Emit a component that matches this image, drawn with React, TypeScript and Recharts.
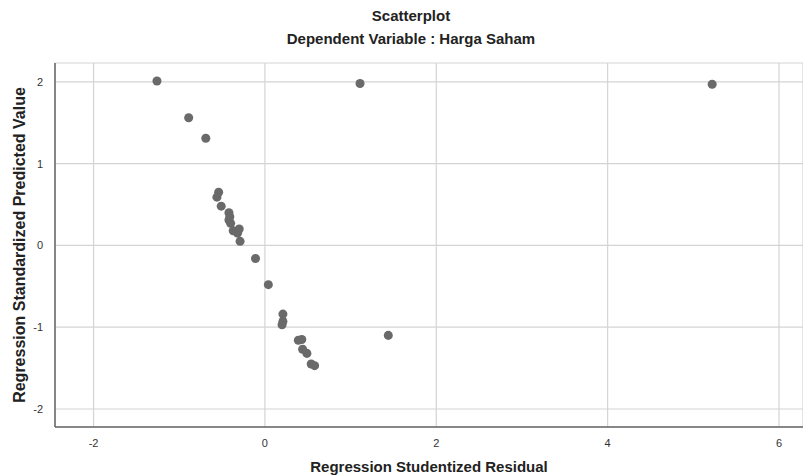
import React from "react";
import {
  ScatterChart,
  Scatter,
  XAxis,
  YAxis,
  CartesianGrid,
  Label,
} from "recharts";

// studentized residual (x) vs standardized predicted value (y)
const residuals = [
  -1.26, 1.11, 5.22, -0.89, -0.69,
  -0.54, -0.56, -0.51, -0.42, -0.41, -0.42, -0.4, -0.37, -0.3, -0.32, -0.29, -0.11,
  0.04, 0.21, 0.21, 0.2, 0.39, 0.43, 0.44, 0.49, 0.54, 0.58, 1.44,
];
const predicted = [
  2.01, 1.98, 1.97, 1.56, 1.31,
  0.65, 0.59, 0.48, 0.4, 0.35, 0.31, 0.27, 0.18, 0.2, 0.15, 0.05, -0.16,
  -0.48, -0.84, -0.93, -0.97, -1.16, -1.15, -1.27, -1.32, -1.45, -1.47, -1.1,
];
const xTicks = [-2, 0, 2, 4, 6];
const yTicks = [-2, -1, 0, 1, 2];

const points = residuals.map((r, i) => ({ x: r, y: predicted[i] }));

const font = "'Liberation Sans', Arial, sans-serif";
const titleStyle = { fontSize: 15, fontWeight: "bold", fill: "#222", fontFamily: font };

const App = () => {
  return (
    <div
      style={{
        position: "absolute",
        left: 0,
        top: 0,
        width: 803,
        height: 475,
        background: "#fff",
        fontFamily: font,
      }}
    >
      <div
        style={{
          position: "absolute",
          top: 4,
          left: 0,
          width: 822,
          textAlign: "center",
          fontSize: 15,
          fontWeight: "bold",
          color: "#222",
          lineHeight: "23px",
        }}
      >
        <div>Scatterplot</div>
        <div>Dependent Variable : Harga Saham</div>
      </div>
      <ScatterChart
        width={803}
        height={475}
        margin={{ top: 63, right: 0, bottom: 0, left: 0 }}
      >
        <CartesianGrid stroke="#d4d4d4" strokeWidth={1.2} />
        <XAxis
          type="number"
          dataKey="x"
          domain={[-2.45, 6.28]}
          ticks={xTicks}
          allowDataOverflow
          height={48}
          tickLine={false}
          axisLine={{ stroke: "#666", strokeWidth: 1.5 }}
          tick={{ fill: "#333", fontSize: 11, fontFamily: font }}
          tickMargin={6}
        >
          <Label
            value="Regression Studentized Residual"
            position="insideBottom"
            offset={3}
            style={titleStyle}
          />
        </XAxis>
        <YAxis
          type="number"
          dataKey="y"
          domain={[-2.22, 2.23]}
          ticks={yTicks}
          allowDataOverflow
          width={55}
          tickLine={false}
          axisLine={{ stroke: "#666", strokeWidth: 1.5 }}
          tick={{ fill: "#333", fontSize: 11, fontFamily: font }}
          tickMargin={6}
        >
          <Label
            value="Regression Standardized Predicted Value"
            angle={-90}
            position="insideLeft"
            offset={19}
            style={{ ...titleStyle, fontSize: 16, textAnchor: "middle" }}
          />
        </YAxis>
        <Scatter
          data={points}
          fill="#6a6a6a"
          shape="circle"
          isAnimationActive={false}
        />
      </ScatterChart>
    </div>
  );
};

export default App;
